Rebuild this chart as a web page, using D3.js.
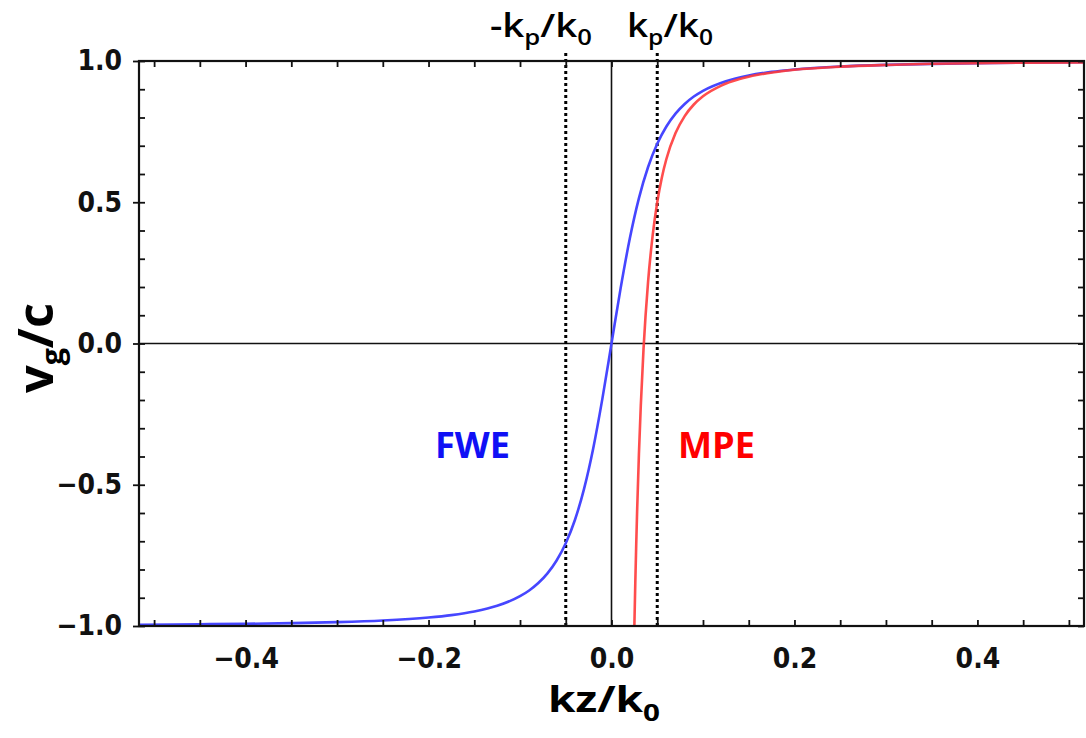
<!DOCTYPE html>
<html>
<head>
<meta charset="utf-8">
<style>
  body { margin: 0; background: #fff; }
  svg { display: block; }
</style>
</head>
<body>
<script src="https://cdn.jsdelivr.net/npm/d3@7"></script>
<script>

// data ///////////////////////////////////////////////////////////////////

var kpLines = [-0.05, 0.05];

var xTicks  = [-0.5, -0.45, -0.4, -0.35, -0.3, -0.25, -0.2, -0.15, -0.1, -0.05, 0,
               0.05, 0.1, 0.15, 0.2, 0.25, 0.3, 0.35, 0.4, 0.45, 0.5];
var xLabels = [-0.4, -0.2, 0, 0.2, 0.4];
var yTicks  = [-1, -0.9, -0.8, -0.7, -0.6, -0.5, -0.4, -0.3, -0.2, -0.1, 0,
               0.1, 0.2, 0.3, 0.4, 0.5, 0.6, 0.7, 0.8, 0.9, 1];
var yLabels = [-1, -0.5, 0, 0.5, 1];

// FWE (blue)
var fweK = [-0.5165, -0.45, -0.4, -0.35, -0.3, -0.25, -0.2, -0.175, -0.15, -0.125,
            -0.1, -0.09, -0.08, -0.07, -0.06, -0.05, -0.04, -0.03, -0.02, -0.01, 0,
            0.01, 0.02, 0.03, 0.04, 0.05, 0.06, 0.07, 0.08, 0.09, 0.1,
            0.125, 0.15, 0.175, 0.2, 0.25, 0.3, 0.35, 0.4, 0.45, 0.5165];
var fweV = [-0.9954, -0.9938, -0.9923, -0.9899, -0.9864, -0.9806, -0.9701, -0.9615, -0.9487, -0.9285,
            -0.8944, -0.8742, -0.8480, -0.8137, -0.7682, -0.7071, -0.6247, -0.5145, -0.3714, -0.1961, 0,
            0.1961, 0.3714, 0.5145, 0.6247, 0.7071, 0.7682, 0.8137, 0.8480, 0.8742, 0.8944,
            0.9285, 0.9487, 0.9615, 0.9701, 0.9806, 0.9864, 0.9899, 0.9923, 0.9938, 0.9954];

// MPE (red)
var mpeK = [0.025, 0.026, 0.027, 0.028, 0.03, 0.032, 0.035, 0.04, 0.045, 0.05, 0.055,
            0.06, 0.07, 0.08, 0.09, 0.1, 0.12, 0.14, 0.16, 0.18, 0.2, 0.25, 0.3,
            0.35, 0.4, 0.45, 0.5165];
var mpeV = [-1.0, -0.849, -0.715, -0.594, -0.389, -0.221, -0.020, 0.219, 0.383, 0.5, 0.587,
            0.653, 0.745, 0.805, 0.846, 0.875, 0.913, 0.936, 0.951, 0.961, 0.969, 0.980, 0.986,
            0.990, 0.992, 0.994, 0.995];

// layout /////////////////////////////////////////////////////////////////

var W = 1086, H = 738;
var margin = {top: 61, right: 2, bottom: 112, left: 139},
    width  = W - margin.left - margin.right,
    height = H - margin.top - margin.bottom;

var svg = d3.select('body').append('svg')
	.attr('width', W)
	.attr('height', H);

var plot = svg.append('g')
	.attr('transform', `translate(${margin.left},${margin.top})`);

var x = d3.scaleLinear().domain([-0.5165, 0.5165]).range([0, width]);
var y = d3.scaleLinear().domain([-1, 1]).range([height, 0]);

var tickFont = '"DejaVu Sans Condensed", "DejaVu Sans", sans-serif';
var titleFont = '"Open Sans", "Noto Sans", sans-serif';
var fmt = d => d3.format('.1f')(d).replace('-', '\u2212');

svg.append('clipPath').attr('id', 'clip')
	.append('rect').attr('width', width).attr('height', height);

// reference lines
plot.append('line')
	.attr('x1', 0).attr('x2', width)
	.attr('y1', y(0)).attr('y2', y(0))
	.attr('stroke', '#111').attr('stroke-width', 1.6);
plot.append('line')
	.attr('x1', x(0)).attr('x2', x(0))
	.attr('y1', 0).attr('y2', height)
	.attr('stroke', '#111').attr('stroke-width', 1.6);

plot.selectAll('.kp')
	.data(kpLines)
	.join('line')
		.attr('class', 'kp')
		.attr('x1', d => x(d)).attr('x2', d => x(d))
		.attr('y1', -8).attr('y2', height)
		.attr('stroke', '#000')
		.attr('stroke-width', 3)
		.attr('stroke-dasharray', '3,3');

// curves
var line = d3.line()
	.x(d => x(d[0]))
	.y(d => y(d[1]))
	.curve(d3.curveMonotoneX);

var curves = plot.append('g').attr('clip-path', 'url(#clip)');
curves.append('path')
	.datum(d3.zip(fweK, fweV))
	.attr('d', line)
	.attr('fill', 'none')
	.attr('stroke', '#4646ff')
	.attr('stroke-width', 2.6);
curves.append('path')
	.datum(d3.zip(mpeK, mpeV))
	.attr('d', line)
	.attr('fill', 'none')
	.attr('stroke', '#ff3a3a')
	.attr('stroke-opacity', 0.9)
	.attr('stroke-width', 2.6);

// axes (ticks pointing inward on all four sides)
function styleTicks(g) {
	g.select('.domain').remove();
	g.selectAll('.tick line').attr('stroke', '#111').attr('stroke-width', 1.8);
	g.selectAll('.tick text').remove();
}

plot.append('g')
	.attr('transform', `translate(0,${height})`)
	.call(d3.axisBottom(x).tickValues(xTicks).tickSize(-6))
	.call(styleTicks);
plot.append('g')
	.call(d3.axisTop(x).tickValues(xTicks).tickSize(-6))
	.call(styleTicks);
plot.append('g')
	.call(d3.axisLeft(y).tickValues(yTicks).tickSize(-6))
	.call(styleTicks);
plot.append('g')
	.call(d3.axisLeft(y).tickValues(yLabels).tickSize(6))
	.call(styleTicks);
plot.append('g')
	.attr('transform', `translate(${width},0)`)
	.call(d3.axisRight(y).tickValues(yTicks).tickSize(-6))
	.call(styleTicks);

// tick labels
plot.append('g')
	.attr('transform', `translate(0,${height})`)
	.call(d3.axisBottom(x).tickValues(xLabels).tickSize(0).tickPadding(22).tickFormat(fmt))
	.call(g => g.select('.domain').remove())
	.call(g => g.selectAll('text')
		.attr('font-family', tickFont).attr('font-weight', 'bold')
		.attr('font-size', 28).attr('fill', '#111'));

plot.append('g')
	.call(d3.axisLeft(y).tickValues(yLabels).tickSize(0).tickPadding(17).tickFormat(fmt))
	.call(g => g.select('.domain').remove())
	.call(g => g.selectAll('text')
		.attr('font-family', tickFont).attr('font-weight', 'bold')
		.attr('font-size', 28).attr('fill', '#111'));

// frame
plot.append('rect')
	.attr('width', width).attr('height', height)
	.attr('fill', 'none')
	.attr('stroke', '#111')
	.attr('stroke-width', 2.2);

// titles
function subText(sel, parts, sub) {
	parts.forEach((p, i) => {
		sel.append('tspan')
			.attr('font-size', p.sub ? sub.size : null)
			.attr('dy', p.sub ? sub.dy : (i > 0 && parts[i-1].sub ? -sub.dy : null))
			.text(p.t);
	});
}

var xt = svg.append('text')
	.attr('x', 548).attr('y', 712)
	.attr('font-family', titleFont).attr('font-weight', 'bold')
	.attr('font-size', 36).attr('fill', '#000')
	.attr('textLength', 112).attr('lengthAdjust', 'spacingAndGlyphs');
subText(xt, [{t: 'kz/k'}, {t: '0', sub: true}], {size: 24, dy: 9});

var yt = svg.append('text')
	.attr('transform', 'translate(53,393) rotate(-90)')
	.attr('font-family', titleFont).attr('font-weight', 'bold')
	.attr('font-size', 48).attr('fill', '#000')
	.attr('textLength', 90).attr('lengthAdjust', 'spacingAndGlyphs');
subText(yt, [{t: 'v'}, {t: 'g', sub: true}, {t: '/c'}], {size: 30, dy: 10});

var kl = svg.append('text')
	.attr('x', 490).attr('y', 37)
	.attr('font-family', titleFont).attr('font-weight', 600)
	.attr('font-size', 33).attr('fill', '#000')
	.attr('textLength', 102).attr('lengthAdjust', 'spacingAndGlyphs');
subText(kl, [{t: '-k'}, {t: 'p', sub: true}, {t: '/k'}, {t: '0', sub: true}], {size: 22, dy: 8});

var kr = svg.append('text')
	.attr('x', 627).attr('y', 37)
	.attr('font-family', titleFont).attr('font-weight', 600)
	.attr('font-size', 33).attr('fill', '#000')
	.attr('textLength', 86).attr('lengthAdjust', 'spacingAndGlyphs');
subText(kr, [{t: 'k'}, {t: 'p', sub: true}, {t: '/k'}, {t: '0', sub: true}], {size: 22, dy: 8});

// series labels
svg.append('text')
	.attr('x', 435).attr('y', 458)
	.attr('font-family', titleFont).attr('font-weight', 'bold')
	.attr('font-size', 35).attr('fill', '#1010f5')
	.attr('textLength', 75).attr('lengthAdjust', 'spacingAndGlyphs')
	.text('FWE');
svg.append('text')
	.attr('x', 678).attr('y', 458)
	.attr('font-family', titleFont).attr('font-weight', 'bold')
	.attr('font-size', 35).attr('fill', '#ff0000')
	.attr('textLength', 77).attr('lengthAdjust', 'spacingAndGlyphs')
	.text('MPE');

</script>
</body>
</html>
